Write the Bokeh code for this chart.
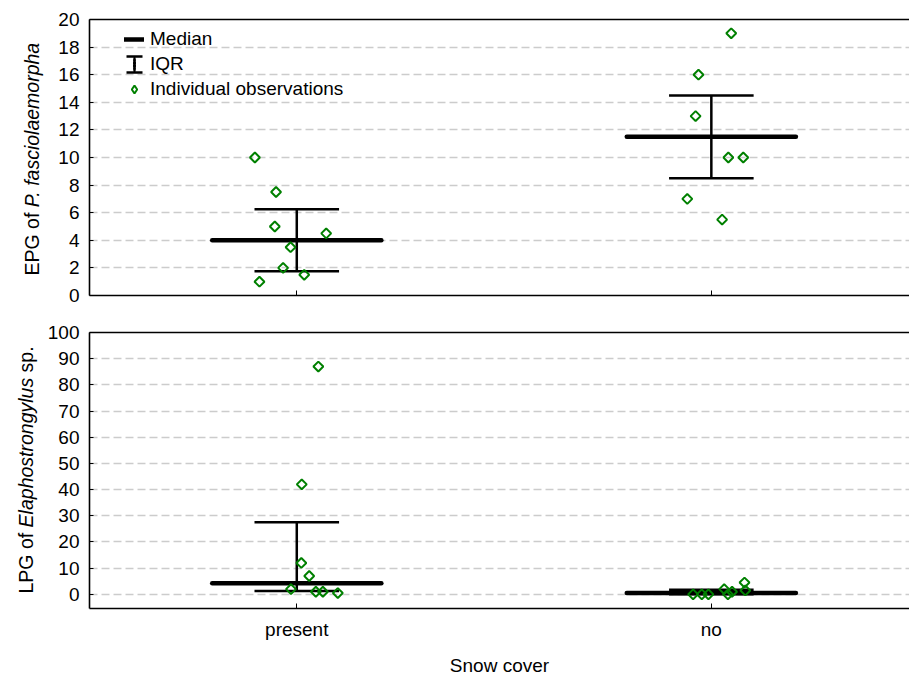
import math
from bokeh.plotting import figure
from bokeh.layouts import column, row
from bokeh.models import (Range1d, FixedTicker, LinearAxis, Legend, LegendItem, Label,
                          CustomLabelingPolicy)
from bokeh.embed import file_html
from bokeh.resources import INLINE

# ---------------- data ----------------
categories = ["present", "no"]
category_x = [0.5, 1.5]

# EPG of P. fasciolaemorpha
epg_present = [10, 7.5, 5, 4.5, 3.5, 2, 1.5, 1]
epg_present_jitter = [-0.101, -0.050, -0.053, 0.071, -0.015, -0.033, 0.018, -0.090]
epg_no = [19, 16, 13, 10, 10, 7, 5.5]
epg_no_jitter = [0.048, -0.031, -0.038, 0.041, 0.077, -0.058, 0.026]
epg_median = [4, 11.5]
epg_q1 = [1.75, 8.5]
epg_q3 = [6.25, 14.5]
epg_ticks = [0, 2, 4, 6, 8, 10, 12, 14, 16, 18, 20]

# LPG of Elaphostrongylus sp.
lpg_present = [87, 42, 12, 7, 2, 1, 1, 0.5]
lpg_present_jitter = [0.052, 0.012, 0.011, 0.030, -0.014, 0.046, 0.063, 0.099]
lpg_no = [0, 0, 0, 2, 0, 1, 4.5, 1.5]
lpg_no_jitter = [-0.044, -0.023, -0.007, 0.031, 0.040, 0.050, 0.080, 0.082]
lpg_median = [4.25, 0.5]
lpg_q1 = [1.25, 0]
lpg_q3 = [27.5, 1.75]
lpg_ticks = [0, 10, 20, 30, 40, 50, 60, 70, 80, 90, 100]

x_title = "Snow cover"
legend_labels = ["Median", "IQR", "Individual observations"]

# ---------------- style ----------------
FONT = "Liberation Sans"
FS = "19px"
GREEN = "#008000"
MEDIAN_HALF = 0.204
CAP_HALF = 0.102
X_END = 1.978
LABEL_W = 44
MAIN_W = 909 - LABEL_W
NAN = float("nan")


def make_panel(pres, pres_j, no, no_j, med, q1, q3, y_lo, y_hi, ticks,
               height, border_top, border_bottom, show_labels):
    p = figure(width=MAIN_W, height=height, x_range=Range1d(0, X_END),
               y_range=Range1d(y_lo, y_hi), output_backend="svg",
               toolbar_location=None, min_border_left=86 - LABEL_W, min_border_right=0,
               min_border_top=border_top, min_border_bottom=border_bottom,
               outline_line_color=None, background_fill_color="white",
               border_fill_color="white")
    p.xgrid.visible = False
    p.ygrid.ticker = FixedTicker(ticks=ticks)
    p.ygrid.grid_line_color = "#cccccc"
    p.ygrid.grid_line_dash = "8 4"
    p.ygrid.grid_line_width = 1.5

    ya = p.yaxis[0]
    ya.ticker = FixedTicker(ticks=ticks)
    ya.major_tick_in = 4
    ya.major_tick_out = 0
    ya.minor_tick_line_color = None
    ya.axis_line_width = 1.6
    ya.axis_line_color = "black"
    ya.major_tick_line_color = "black"
    ya.major_label_standoff = 10
    ya.major_label_text_font = FONT
    ya.major_label_text_font_size = FS
    ya.major_label_text_color = "black"

    xa = p.xaxis[0]
    xa.ticker = FixedTicker(ticks=category_x)
    xa.major_label_overrides = {category_x[i]: categories[i] for i in range(len(categories))}
    xa.major_tick_in = 5
    xa.major_tick_out = 0
    xa.minor_tick_line_color = None
    xa.axis_line_width = 1.6
    xa.axis_line_color = "black"
    xa.major_tick_line_color = "black"
    xa.major_label_text_font = FONT
    xa.major_label_text_font_size = FS
    xa.major_label_text_color = "black"
    if show_labels:
        xa.major_label_standoff = 10
        xa.axis_label = x_title
        xa.axis_label_text_font = FONT
        xa.axis_label_text_font_size = FS
        xa.axis_label_text_font_style = "normal"
        xa.axis_label_text_color = "black"
        xa.axis_label_standoff = 12
    else:
        xa.major_label_standoff = 0
        xa.major_label_policy = CustomLabelingPolicy(
            code="for (const i of Array.from(indices)) indices.unset(i)")

    top_axis = LinearAxis(ticker=FixedTicker(ticks=[]),
                          major_tick_line_color=None, minor_tick_line_color=None,
                          axis_line_color="black", axis_line_width=1.6,
                          major_label_standoff=0)
    p.add_layout(top_axis, "above")

    # IQR whiskers
    p.segment(x0=category_x, x1=category_x, y0=q1, y1=q3,
              line_color="black", line_width=2.5)
    caps_x0 = [c - CAP_HALF for c in category_x] * 2
    caps_x1 = [c + CAP_HALF for c in category_x] * 2
    p.segment(x0=caps_x0, x1=caps_x1, y0=q1 + q3, y1=q1 + q3,
              line_color="black", line_width=2.5)
    # medians
    med_r = p.segment(x0=[c - MEDIAN_HALF for c in category_x],
                      x1=[c + MEDIAN_HALF for c in category_x],
                      y0=med, y1=med, line_color="black", line_width=4.5,
                      line_cap="round")
    # observations
    xs = [category_x[0] + j for j in pres_j] + [category_x[1] + j for j in no_j]
    ys = list(pres) + list(no)
    pts = p.scatter(x=xs, y=ys, marker="square", angle=math.pi / 4, size=7,
                    line_color=GREEN, line_width=2, fill_color=None)
    return p, med_r, pts


p1, med1, pts1 = make_panel(epg_present, epg_present_jitter, epg_no, epg_no_jitter,
                            epg_median, epg_q1, epg_q3, 0, 20, epg_ticks,
                            319, 19, 18, False)
p2, med2, pts2 = make_panel(lpg_present, lpg_present_jitter, lpg_no, lpg_no_jitter,
                            lpg_median, lpg_q1, lpg_q3, -5.4, 100, lpg_ticks,
                            359, 13, 70, True)

# legend-only key glyphs (no data of their own):
#   IQR key = dashed box whose top/bottom edges form the caps + a slim ellipse as the stem
iqr_caps_key = p1.vbar(x=[NAN], top=[NAN], width=0.1, fill_color=None,
                       line_color="black", line_width=2.5, line_dash="16 16")
iqr_stem_key = p1.ellipse(x=[NAN], y=[NAN], width=2, height=16, width_units="screen",
                          height_units="screen", fill_color="black",
                          line_color="black", line_width=1)
obs_key = p1.scatter(x=[NAN], y=[NAN], marker="diamond", line_color=GREEN,
                     line_width=2, fill_color=None)
legend = Legend(items=[LegendItem(label=legend_labels[0], renderers=[med1]),
                       LegendItem(label=legend_labels[1], renderers=[iqr_caps_key, iqr_stem_key]),
                       LegendItem(label=legend_labels[2], renderers=[obs_key])],
                location=(35, 195), padding=0, margin=0, spacing=3,
                glyph_width=20, glyph_height=20, label_height=22, label_standoff=6,
                label_text_font=FONT, label_text_font_size=FS, label_text_color="black",
                background_fill_alpha=0, border_line_color=None)
p1.add_layout(legend)

# side strip holding the rotated y-axis titles (with italic species names)
lab = figure(width=LABEL_W, height=678, x_range=Range1d(0, LABEL_W),
             y_range=Range1d(678, 0), output_backend="svg", toolbar_location=None,
             x_axis_type=None, y_axis_type=None, min_border=0,
             outline_line_color=None, background_fill_color="white",
             border_fill_color="white")
lab.xgrid.visible = False
lab.ygrid.visible = False


def ylab(x, y, text, italic):
    lab.add_layout(Label(x=x, y=y, text=text, angle=math.pi / 2, text_font=FONT,
                         text_font_size="19.5px", text_color="black",
                         text_font_style="italic" if italic else "normal",
                         text_align="left", text_baseline="alphabetic"))


ylab(31, 275, "EPG of", False)
ylab(31, 206.7, "P. fasciolaemorpha", True)
ylab(25, 593, "LPG of", False)
ylab(25, 526.9, "Elaphostrongylus", True)
ylab(25, 371.9, "sp.", False)

layout = row(lab, column(p1, p2, spacing=0), spacing=0)
open("out.html", "w").write(file_html(layout, INLINE))
